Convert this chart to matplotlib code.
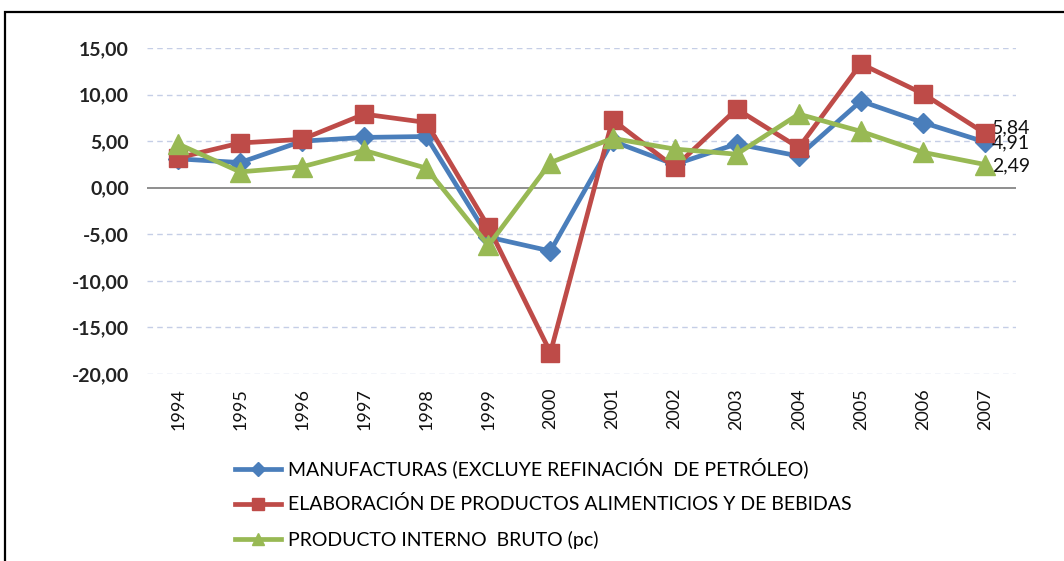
import matplotlib
matplotlib.use("Agg")
import matplotlib.pyplot as plt
from matplotlib.patches import Rectangle

years = ["1994", "1995", "1996", "1997", "1998", "1999", "2000",
         "2001", "2002", "2003", "2004", "2005", "2006", "2007"]
manufacturas = [3.1, 2.7, 5.0, 5.4, 5.5, -5.3, -6.8, 5.0, 2.5, 4.7, 3.4, 9.3, 7.0, 4.91]
alimentos = [3.2, 4.8, 5.2, 7.9, 7.0, -4.2, -17.7, 7.3, 2.2, 8.45, 4.3, 13.3, 10.1, 5.84]
pib = [4.7, 1.7, 2.25, 4.0, 2.1, -6.2, 2.7, 5.3, 4.15, 3.6, 7.9, 6.05, 3.8, 2.49]
labels = ["MANUFACTURAS (EXCLUYE REFINACIÓN  DE PETRÓLEO)",
          "ELABORACIÓN DE PRODUCTOS ALIMENTICIOS Y DE BEBIDAS",
          "PRODUCTO INTERNO  BRUTO (pc)"]
yticks = [15, 10, 5, 0, -5, -10, -15, -20]

plt.rcParams['font.family'] = ['Lato', 'DejaVu Sans']

fig = plt.figure(figsize=(10.64, 5.61), dpi=100)
ax = fig.add_axes([147/1064, 1-374/561, (1016-147)/1064, (374-48)/561])

x = list(range(len(years)))
blue, red, green = "#4A7EBB", "#BE4B48", "#98B954"
l1, = ax.plot(x, manufacturas, color=blue, lw=3.4, marker="D", ms=10.5, zorder=3, label=labels[0])
l2, = ax.plot(x, alimentos, color=red, lw=3.4, marker="s", ms=13.5, zorder=4, label=labels[1])
l3, = ax.plot(x, pib, color=green, lw=3.4, marker="^", ms=14, zorder=5, label=labels[2])

ax.set_xlim(-0.5, len(years) - 0.5)
ax.set_ylim(-20, 15)
ax.set_yticks(yticks)
ax.set_yticklabels([f"{v:.2f}".replace(".", ",") for v in yticks],
                   fontsize=14, fontweight="bold", color="#222222")
ax.set_xticks(x)
ax.set_xticklabels(years, rotation=90, fontsize=13, color="#111111")
ax.tick_params(axis="both", length=0)
ax.tick_params(axis="y", pad=13)
ax.tick_params(axis="x", pad=10)
for s in ax.spines.values():
    s.set_visible(False)
for v in yticks:
    if v != 0:
        ax.axhline(v, color="#C5CEE6", lw=1.0, ls=(0, (4, 3)), zorder=1)
ax.axhline(0, color="#868686", lw=1.3, zorder=2)

# data labels at the last point
last = len(years) - 1
for val, dy in [(alimentos[-1], 4), (manufacturas[-1], -1), (pib[-1], -1)]:
    ax.annotate(f"{val:.2f}".replace(".", ","), (last, val), xytext=(5, dy),
                textcoords="offset points", ha="left", va="center",
                fontsize=14, color="#111111")

fig.legend(handles=[l1, l2, l3], loc="upper left",
           bbox_to_anchor=(217/1064, 1-440/561), frameon=False,
           fontsize=14, labelspacing=0.88, handlelength=2.4,
           handletextpad=0.36, markerscale=0.65)

fig.patches.append(Rectangle((5/1064, -0.1), 1.2, 1 - 12/561 + 0.1,
                             transform=fig.transFigure, fill=False,
                             edgecolor="black", lw=1.6))

fig.savefig("out.png", dpi=100)
